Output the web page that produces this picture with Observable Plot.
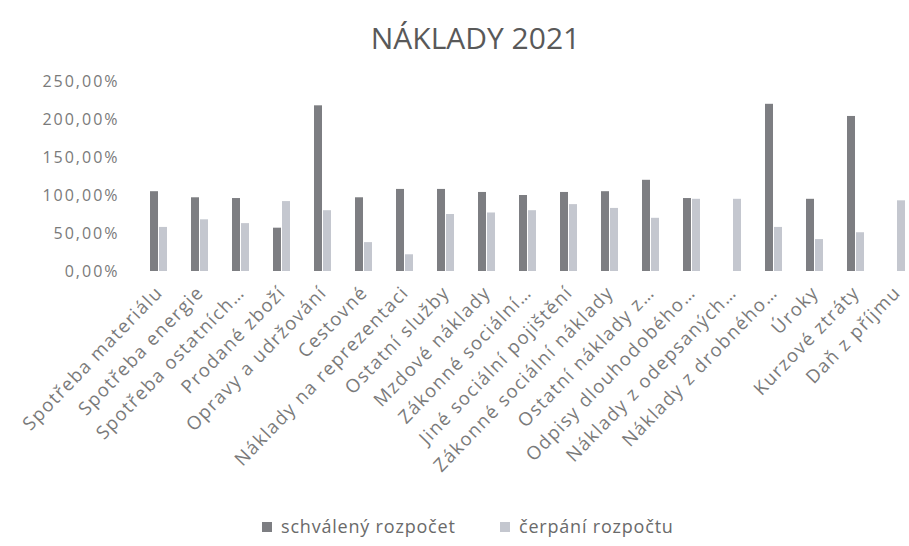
<!DOCTYPE html>
<html>
<head>
<meta charset="utf-8">
<script src="https://cdn.jsdelivr.net/npm/d3@7"></script>
<script src="https://cdn.jsdelivr.net/npm/@observablehq/plot@0.6"></script>
<style>
  html, body { margin: 0; padding: 0; background: #fff; overflow: hidden; }
  #title { position: absolute; top: 18px; left: 0; width: 909px; padding-left: 42px; box-sizing: border-box; text-align: center; font-family: "Open Sans", sans-serif; font-size: 30px; color: #595959; line-height: 40px; }
  #chart { margin-top: 62px; }
  #chart g[aria-label="fx-axis tick label"] text { letter-spacing: 1.4px; }
  #chart g[aria-label="y-axis tick label"] text { letter-spacing: 2px; }
  .leg { position: absolute; top: 514px; font-family: "Open Sans", sans-serif; font-size: 18px; letter-spacing: 0.8px; color: #6a6a6a; line-height: 24px; white-space: nowrap; }
  .leg span.sw { display: inline-block; width: 10px; height: 10px; margin-right: 9px; vertical-align: 1px; }
</style>
</head>
<body>
<div id="title">NÁKLADY 2021</div>
<div id="chart"></div>
<div id="legend"></div>
<script>
const categories = [
  "Spotřeba materiálu",
  "Spotřeba energie",
  "Spotřeba ostatních…",
  "Prodané zboží",
  "Opravy a udržování",
  "Cestovné",
  "Náklady na reprezentaci",
  "Ostatní služby",
  "Mzdové náklady",
  "Zákonné sociální…",
  "Jiné sociální pojištění",
  "Zákonné sociální náklady",
  "Ostatní náklady z…",
  "Odpisy dlouhodobého…",
  "Náklady z odepsaných…",
  "Náklady z drobného…",
  "Úroky",
  "Kurzové ztráty",
  "Daň z příjmu"
];
const series = ["schválený rozpočet", "čerpání rozpočtu"];
const schvaleny = [105, 97, 96, 57, 218, 97, 108, 108, 104, 100, 104, 105, 120, 96, 0, 220, 95, 204, 0];
const cerpani   = [58, 68, 63, 92, 80, 38, 22, 75, 77, 80, 88, 83, 70, 95, 95, 58, 42, 51, 93];
const yTicks = [0, 50, 100, 150, 200, 250];
const colors = ["#7d7e82", "#c4c7cf"];
const legendLeft = [262, 500];

const rows = [];
categories.forEach((c, i) => {
  rows.push({cat: c, series: series[0], value: schvaleny[i]});
  rows.push({cat: c, series: series[1], value: cerpani[i]});
});

const chart = Plot.plot({
  width: 909,
  height: 420,
  marginTop: 19,
  marginBottom: 211,
  marginLeft: 146,
  marginRight: 0,
  style: {fontFamily: "Open Sans, sans-serif", fontSize: "15px", color: "#7a7a7a", background: "#fff", overflow: "visible"},
  fx: {domain: categories, padding: 0.52, label: null, axis: null},
  x: {domain: series, padding: 0.1, axis: null},
  y: {domain: [0, 250], axis: null},
  color: {domain: series, range: colors},
  marks: [
    Plot.axisY({ticks: yTicks, tickFormat: d => d.toFixed(2).replace(".", ",") + "%", tickSize: 0, tickPadding: 30, label: null, fontSize: 16}),
    Plot.axisFx({anchor: "bottom", tickRotate: -46, tickSize: 0, tickPadding: 18, label: null, fontSize: 18.5}),
    Plot.barY(rows, {fx: "cat", x: "series", y: "value", fill: "series"})
  ]
});
document.getElementById("chart").appendChild(chart);

const legend = document.getElementById("legend");
series.forEach((s, i) => {
  const item = document.createElement("div");
  item.className = "leg";
  item.style.left = legendLeft[i] + "px";
  const sw = document.createElement("span");
  sw.className = "sw";
  sw.style.background = colors[i];
  item.appendChild(sw);
  item.appendChild(document.createTextNode(s));
  legend.appendChild(item);
});
</script>
</body>
</html>
